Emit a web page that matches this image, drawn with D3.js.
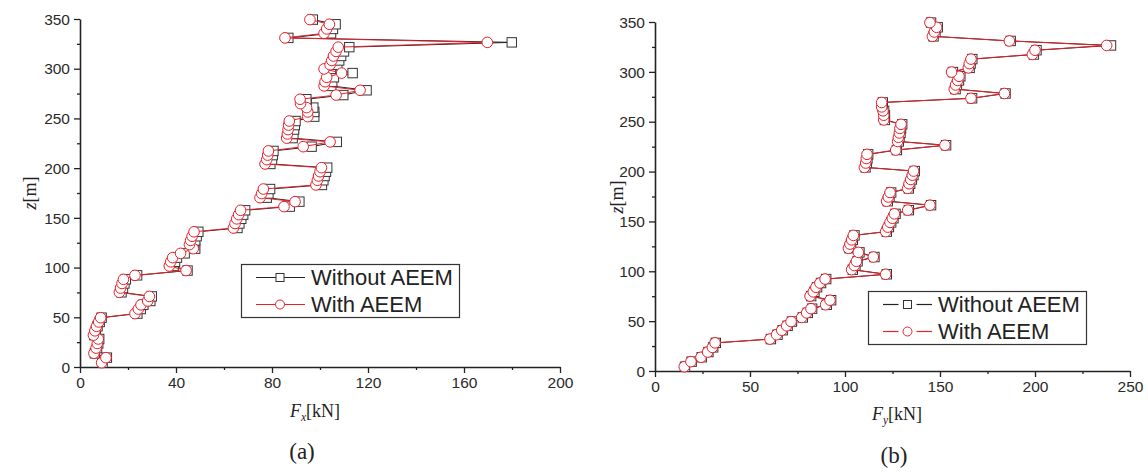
<!DOCTYPE html>
<html>
<head>
<meta charset="utf-8">
<script src="https://cdn.jsdelivr.net/npm/d3@7/dist/d3.min.js"></script>
<style>
  html, body { margin: 0; padding: 0; background: #fff; }
  svg { display: block; }
</style>
</head>
<body>
<svg id="chart" width="1148" height="475"></svg>
<script>
// ---------------- DATA ----------------
const zLevels = [4.3, 9.4, 13.8, 19.0, 23.7, 28.2, 32.0, 36.4, 40.9, 45.3, 49.6,
  53.7, 58.3, 62.5, 66.4, 71.0, 75.1, 79.4, 84.0, 88.2, 92.2,
  97.0, 101.6, 105.8, 110.0, 114.3, 119.0, 123.1, 127.3, 131.5, 136.0,
  139.8, 144.3, 149.0, 153.2, 157.6, 161.3, 166.3, 170.3, 174.5, 179.0,
  183.1, 187.8, 192.1, 196.4, 200.5, 204.2, 208.6, 213.1, 217.3,
  221.6, 226.4, 230.2, 234.4, 238.8, 243.3, 247.4, 251.8, 256.5, 260.9,
  264.9, 269.3, 273.5, 278.3, 282.7, 286.9, 291.4, 295.6, 299.8, 304.0,
  308.3, 312.8, 317.4, 321.7, 326.5, 331.0, 335.6, 340.0, 344.7, 349.4];

const fxWithout = [9.4, 11.2, 6.2, 7.1, 7.6, 8.0, 6.0, 6.6, 7.3, 8.2, 9.0,
  23.9, 25.3, 26.4, 29.3, 29.9,
  17.3, 17.9, 18.5, 19.1, 23.8,
  44.8, 39.0, 39.6, 40.4, 43.6,
  48.0, 47.5, 48.0, 48.6, 49.3,
  65.6, 66.4, 67.2, 68.0, 68.8,
  87.4, 91.4, 77.8, 78.5, 79.2,
  100.8, 101.4, 101.9, 102.5, 103.0,
  79.3, 80.0, 80.3, 80.6,
  96.5, 107.0,
  88.6, 88.9, 89.2, 89.5, 89.8,
  97.6, 97.6, 97.2, 94.4, 94.3,
  109.7, 119.4,
  104.7, 105.1, 105.8, 113.6,
  104.6, 107.2, 108.0, 108.8, 110.0, 112.2,
  179.9, 86.8, 104.6, 105.4, 106.5, 97.0];

const fxWith = [9.0, 10.8, 5.8, 6.7, 7.2, 7.6, 5.6, 6.2, 6.9, 7.8, 8.6,
  22.9, 24.3, 25.4, 28.2, 28.9,
  16.4, 16.9, 17.5, 18.1, 22.9,
  44.2, 37.2, 37.8, 38.6, 41.9,
  47.2, 45.6, 46.1, 46.7, 47.5,
  63.9, 64.6, 65.3, 66.1, 66.9,
  85.0, 89.6, 75.0, 75.7, 76.4,
  98.3, 98.9, 99.4, 100.0, 100.6,
  77.1, 77.8, 78.2, 78.5,
  93.0, 104.2,
  86.1, 86.4, 86.7, 86.9, 87.2,
  94.9, 94.9, 94.4, 91.9, 91.7,
  106.7, 116.7,
  101.7, 102.1, 102.8, 109.0,
  101.7, 104.2, 104.9, 105.6, 106.7, 107.6,
  169.7, 85.4, 101.7, 102.8, 103.9, 95.8];

const fyWithout = [15.8, 19.3, 24.6, 28.1, 30.6, 32.0,
  61.0, 64.5, 67.2, 69.8, 72.1,
  77.8, 80.4, 82.7, 90.4, 92.7,
  82.2, 83.9, 85.3, 87.4, 90.1,
  122.0, 104.1, 105.5, 106.6, 115.5,
  107.6, 102.4, 103.2, 104.1, 105.0,
  122.0, 123.1, 124.3, 125.5, 126.6,
  133.6, 145.3, 122.5, 123.4, 124.3,
  133.6, 134.3, 135.2, 136.0, 136.7,
  110.8, 111.5, 111.8, 112.2,
  127.3, 153.2,
  128.3, 128.7, 129.2, 129.5, 130.1,
  121.0, 121.0, 120.6, 119.9, 119.9,
  166.9, 184.5,
  158.2, 158.9, 160.0, 160.7, 156.8,
  165.6, 166.1, 167.0, 199.4, 200.8,
  240.0, 187.2, 146.6, 147.6, 148.8, 145.3];

const fyWith = [15.4, 18.9, 24.2, 27.7, 30.2, 31.6,
  60.5, 64.0, 66.7, 69.3, 71.6,
  77.2, 79.8, 82.1, 89.8, 92.1,
  81.6, 83.3, 84.7, 86.8, 89.5,
  121.4, 103.5, 104.9, 106.0, 114.9,
  107.0, 101.8, 102.6, 103.5, 104.4,
  121.4, 122.5, 123.7, 124.9, 126.0,
  133.0, 144.7, 121.9, 122.8, 123.7,
  133.0, 133.7, 134.6, 135.4, 136.1,
  110.2, 110.9, 111.2, 111.6,
  126.7, 152.6,
  127.7, 128.1, 128.6, 128.9, 129.5,
  120.4, 120.4, 120.0, 119.3, 119.3,
  166.3, 183.9,
  157.5, 158.2, 159.3, 160.0, 156.1,
  164.9, 165.4, 166.3, 198.6, 200.0,
  237.7, 186.5, 146.0, 147.0, 148.2, 144.7];

const seriesNames = ["Without AEEM", "With AEEM"];
const fxTicks = [0, 40, 80, 120, 160, 200];
const fxMinor = [20, 60, 100, 140, 180];
const fyTicks = [0, 50, 100, 150, 200, 250];
const fyMinor = [25, 75, 125, 175, 225];
const zTicks = [0, 50, 100, 150, 200, 250, 300, 350];
const zMinor = [25, 75, 125, 175, 225, 275, 325];

// ---------------- DRAW ----------------
const svg = d3.select("#chart");
const BLACK = "#222";
const RED = "#e8202a";
const SANS = "'Liberation Sans', Arial, sans-serif";
const SERIF = "'Liberation Serif', 'Times New Roman', serif";

function panel(opt) {
  const x = d3.scaleLinear().domain(opt.xDomain).range(opt.xRange);
  const y = d3.scaleLinear().domain([0, 350]).range(opt.yRange);
  const g = svg.append("g");

  function styleAxis(sel) {
    sel.selectAll("path.domain").attr("stroke", BLACK).attr("stroke-width", 1.6);
    sel.selectAll(".tick line").attr("stroke", BLACK).attr("stroke-width", 1.3);
    sel.selectAll(".tick text").attr("fill", "#2a2a2a").style("font-family", SANS).style("font-size", "15.5px");
  }

  // minor ticks
  g.append("g").attr("transform", `translate(0,${opt.yRange[0]})`)
    .call(d3.axisBottom(x).tickValues(opt.xMinor).tickSize(3).tickFormat(""))
    .call(styleAxis).select("path.domain").remove();
  g.append("g").attr("transform", `translate(${opt.xRange[0]},0)`)
    .call(d3.axisLeft(y).tickValues(zMinor).tickSize(3).tickFormat(""))
    .call(styleAxis).select("path.domain").remove();

  // major axes
  g.append("g").attr("transform", `translate(0,${opt.yRange[0]})`)
    .call(d3.axisBottom(x).tickValues(opt.xTicks).tickSize(6).tickSizeOuter(0).tickPadding(4))
    .call(styleAxis);
  const gy = g.append("g").attr("transform", `translate(${opt.xRange[0]},0)`)
    .call(d3.axisLeft(y).tickValues(zTicks).tickSize(6).tickSizeOuter(0).tickPadding(4))
    .call(styleAxis);
  gy.selectAll(".tick text").attr("dy", "0.34em");

  // data
  const line = (vals) => d3.line().x((d, i) => x(vals[i])).y((d, i) => y(zLevels[i]))(zLevels);
  g.append("path").attr("d", line(opt.without)).attr("fill", "none").attr("stroke", BLACK).attr("stroke-width", 1);
  g.append("g").selectAll("rect").data(zLevels).join("rect")
    .attr("x", (d, i) => x(opt.without[i]) - 4.7).attr("y", d => y(d) - 4.7)
    .attr("width", 9.4).attr("height", 9.4)
    .attr("fill", "#fff").attr("stroke", "#333").attr("stroke-width", 1);
  g.append("path").attr("d", line(opt.with)).attr("fill", "none").attr("stroke", RED).attr("stroke-width", 1);
  g.append("g").selectAll("circle").data(zLevels).join("circle")
    .attr("cx", (d, i) => x(opt.with[i])).attr("cy", d => y(d)).attr("r", 5.3)
    .attr("fill", "#fff").attr("stroke", RED).attr("stroke-width", 1);

  // y label
  const yl = g.append("text")
    .attr("transform", `translate(${opt.yLabelX},${opt.yLabelY}) rotate(-90)`)
    .attr("text-anchor", "middle").style("font-family", SERIF).style("font-size", "18px").attr("fill", BLACK);
  yl.append("tspan").style("font-style", "italic").text("z");
  yl.append("tspan").text("[m]");

  // x label
  const xl = g.append("text").attr("x", opt.xLabelX).attr("y", opt.xLabelY)
    .attr("text-anchor", "middle").style("font-family", SERIF).style("font-size", "18px").attr("fill", BLACK);
  xl.append("tspan").style("font-style", "italic").text("F");
  xl.append("tspan").style("font-style", "italic").style("font-size", "11.5px").attr("dy", 4).text(opt.sub);
  xl.append("tspan").attr("dy", -4).text("[kN]");

  // panel caption
  g.append("text").attr("x", opt.capX).attr("y", opt.capY).attr("text-anchor", "middle")
    .style("font-family", SERIF).style("font-size", "23px").attr("fill", BLACK).text(opt.cap);

  // legend
  const L = opt.legend;
  g.append("rect").attr("x", L.x).attr("y", L.y).attr("width", L.w).attr("height", L.h)
    .attr("fill", "#fff").attr("stroke", "#333").attr("stroke-width", 1.2);
  [0, 1].forEach(k => {
    const cy = L.y + L.rows[k];
    const col = k === 0 ? BLACK : RED;
    if (L.gap) {
      g.append("line").attr("x1", L.lx0).attr("x2", L.mx - 9).attr("y1", cy).attr("y2", cy).attr("stroke", col).attr("stroke-width", 1.2);
      g.append("line").attr("x1", L.mx + 9).attr("x2", L.lx1).attr("y1", cy).attr("y2", cy).attr("stroke", col).attr("stroke-width", 1.2);
    } else {
      g.append("line").attr("x1", L.lx0).attr("x2", L.lx1).attr("y1", cy).attr("y2", cy).attr("stroke", col).attr("stroke-width", 1.2);
    }
    if (k === 0) {
      g.append("rect").attr("x", L.mx - 4).attr("y", cy - 4).attr("width", 8).attr("height", 8)
        .attr("fill", "#fff").attr("stroke", "#333").attr("stroke-width", 1);
    } else {
      g.append("circle").attr("cx", L.mx).attr("cy", cy).attr("r", 4.5)
        .attr("fill", "#fff").attr("stroke", RED).attr("stroke-width", 1);
    }
    g.append("text").attr("x", L.tx).attr("y", cy).attr("dy", "0.36em")
      .style("font-family", SANS).style("font-size", "22px").attr("fill", BLACK).text(seriesNames[k]);
  });
}

panel({
  xDomain: [0, 200], xRange: [80, 560], yRange: [367, 19],
  xTicks: fxTicks, xMinor: fxMinor,
  without: fxWithout, with: fxWith,
  yLabelX: 36, yLabelY: 193, xLabelX: 315, xLabelY: 417, sub: "x",
  cap: "(a)", capX: 302, capY: 459,
  legend: { x: 241.5, y: 264.5, w: 218, h: 53, rows: [13, 40], lx0: 256, lx1: 305, mx: 280, tx: 311, gap: false }
});

panel({
  xDomain: [0, 250], xRange: [655, 1130], yRange: [371, 22],
  xTicks: fyTicks, xMinor: fyMinor,
  without: fyWithout, with: fyWith,
  yLabelX: 623, yLabelY: 197, xLabelX: 897, xLabelY: 420, sub: "y",
  cap: "(b)", capX: 894, capY: 463,
  legend: { x: 868.5, y: 291.5, w: 218, h: 53, rows: [13, 40], lx0: 883, lx1: 932, mx: 907.5, tx: 938, gap: true }
});
</script>
</body>
</html>
